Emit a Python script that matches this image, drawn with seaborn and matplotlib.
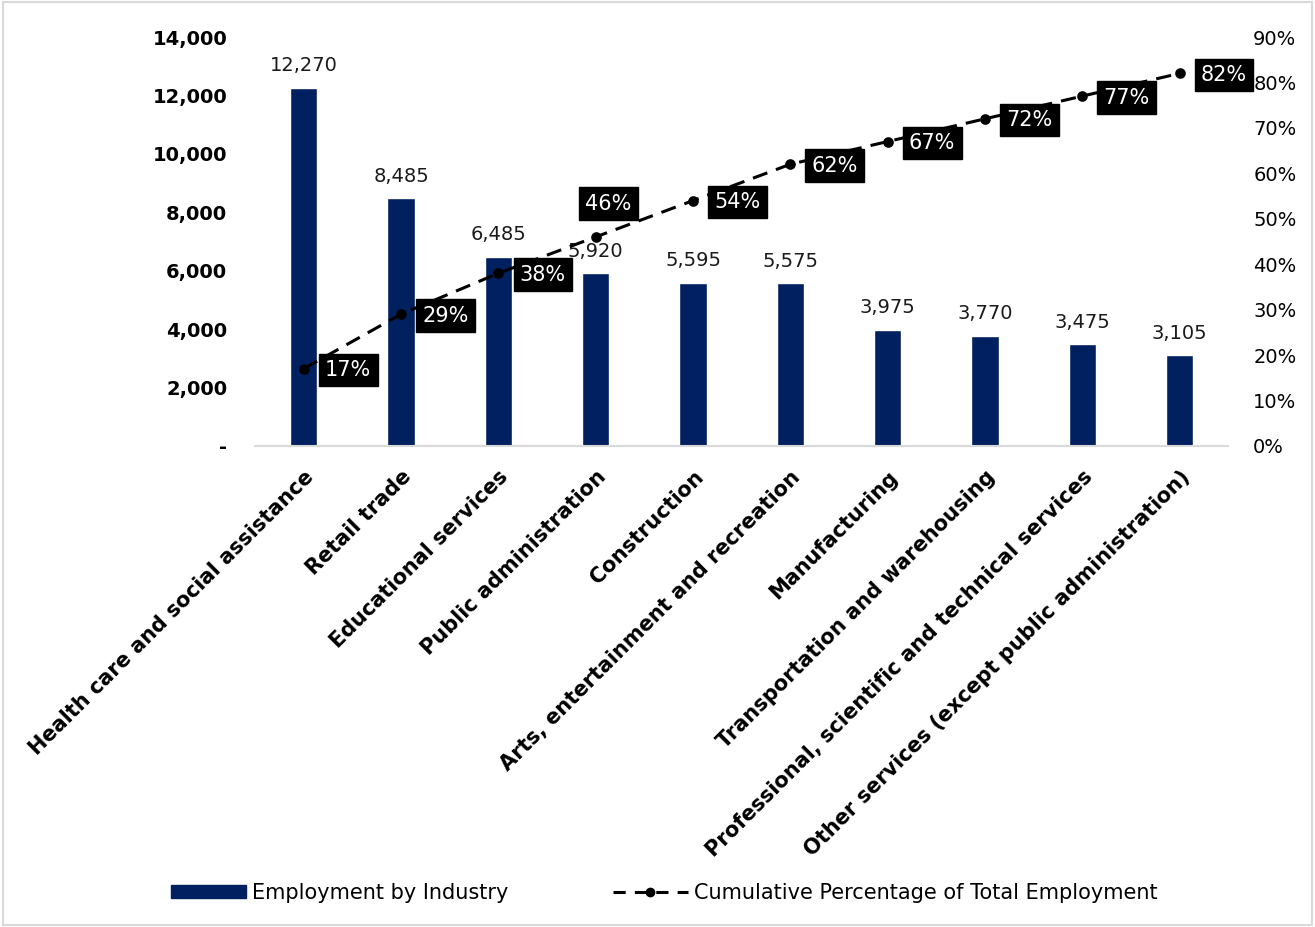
import matplotlib
matplotlib.use("Agg")
import matplotlib.pyplot as plt
import matplotlib.patches as mpatches
import matplotlib.lines as mlines
import seaborn as sns
import pandas as pd

industries = [
    "Health care and social assistance",
    "Retail trade",
    "Educational services",
    "Public administration",
    "Construction",
    "Arts, entertainment and recreation",
    "Manufacturing",
    "Transportation and warehousing",
    "Professional, scientific and technical services",
    "Other services (except public administration)",
]
employment = [12270, 8485, 6485, 5920, 5595, 5575, 3975, 3770, 3475, 3105]
cumulative_pct = [17, 29, 38, 46, 54, 62, 67, 72, 77, 82]

left_ticks = [0, 2000, 4000, 6000, 8000, 10000, 12000, 14000]
right_ticks = [0, 10, 20, 30, 40, 50, 60, 70, 80, 90]

df = pd.DataFrame({"industry": industries, "employment": employment,
                   "cum": cumulative_pct})

sns.set_theme(style="white")
plt.rcParams["font.family"] = ["DejaVu Sans"]
plt.rcParams["text.color"] = "black"
plt.rcParams["xtick.color"] = "black"
plt.rcParams["ytick.color"] = "black"

BAR = "#002060"
GRID = "#d9d9d9"

fig = plt.figure(figsize=(13.15, 9.27), dpi=100)
ax = fig.add_axes([0.194, 0.519, 0.740, 0.441])

sns.barplot(data=df, x="industry", y="employment", color=BAR, width=0.28,
            saturation=1, ax=ax)
ax.set_xlim(-0.5, len(industries) - 0.5)
ax.set_ylim(0, 14000)
ax.set_yticks(left_ticks)
ax.set_yticklabels(["-" if v == 0 else f"{v:,}" for v in left_ticks],
                   fontsize=14, fontweight="bold", color="black")
ax.set_xlabel("")
ax.set_ylabel("")
ax.set_xticks(range(len(industries)))
ax.set_xticklabels(industries, rotation=45, ha="right", rotation_mode="anchor",
                   fontsize=15, fontweight="bold", color="black")
ax.tick_params(axis="x", which="major", length=0, pad=15)
ax.set_xticks([i - 0.5 for i in range(len(industries) + 1)], minor=True)
ax.tick_params(axis="x", which="minor", length=9, color=GRID, width=1.5)
ax.tick_params(axis="y", length=0, pad=20)
for s in ["top", "right", "left"]:
    ax.spines[s].set_visible(False)
ax.spines["bottom"].set_color(GRID)
ax.spines["bottom"].set_linewidth(1.5)

ax.bar_label(ax.containers[0], labels=[f"{v:,}" for v in employment],
             padding=9, fontsize=14, color="#1a1a1a")

ax2 = ax.twinx()
sns.pointplot(data=df, x="industry", y="cum", color="black", markers="o",
              linestyles="--", markersize=6, linewidth=2.2, ax=ax2)
ax2.lines[0].set_dashes([5, 3])
ax2.set_xlim(-0.5, len(industries) - 0.5)
ax2.set_ylim(0, 90)
ax2.set_yticks(right_ticks)
ax2.set_yticklabels([f"{v}%" for v in right_ticks], fontsize=14, color="black")
ax2.tick_params(axis="y", length=0, pad=18)
ax2.set_xlabel("")
ax2.set_ylabel("")
for s in ax2.spines.values():
    s.set_visible(False)

offsets = {3: (9, 24)}
for i, p in enumerate(cumulative_pct):
    dx, dy = offsets.get(i, (32, -1))
    ax2.annotate(f"{p}%", (i, p), xytext=(dx, dy), textcoords="offset points",
                 ha="center", va="center", fontsize=15, color="white",
                 bbox=dict(boxstyle="square,pad=0.3", fc="black", ec="black"))

bar_handle = mpatches.Patch(color=BAR, label="Employment by Industry")
line_handle = mlines.Line2D([], [], color="black", linestyle=(0, (4, 3)),
                            marker="o", markersize=6, linewidth=2.2,
                            label="Cumulative Percentage of Total Employment")
fig.legend(handles=[bar_handle, line_handle], loc="center",
           bbox_to_anchor=(0.505, 0.037), ncol=2, frameon=False, fontsize=15,
           handlelength=3.6, handleheight=0.6, columnspacing=5, handletextpad=0.3)

fig.patches.append(mpatches.Rectangle((0.002, 0.002), 0.996, 0.996,
                                      transform=fig.transFigure, fill=False,
                                      edgecolor=GRID, linewidth=1.5))

fig.savefig("out.png", dpi=100)
